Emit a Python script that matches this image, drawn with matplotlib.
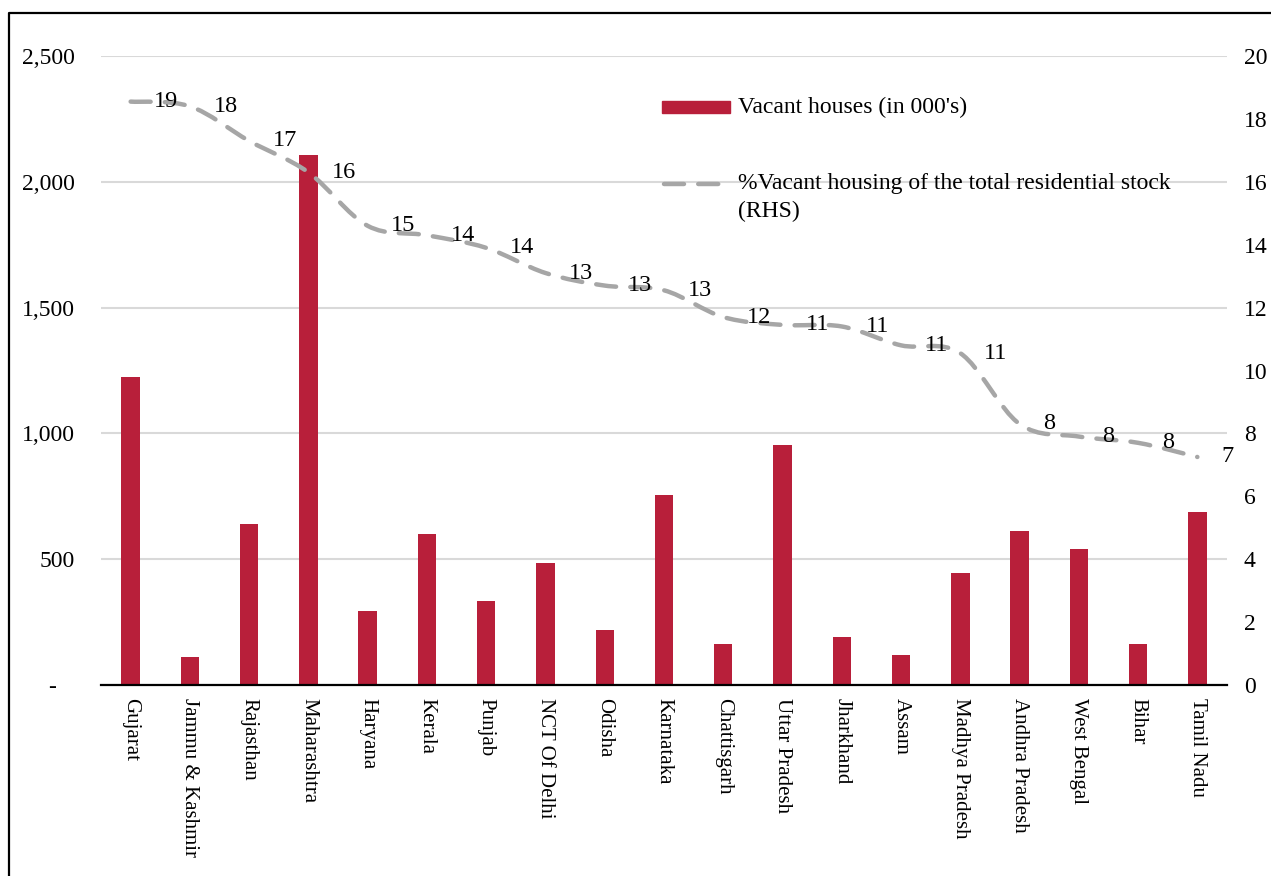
import numpy as np
import matplotlib
matplotlib.use("Agg")
import matplotlib.pyplot as plt
from matplotlib.path import Path
from matplotlib.patches import PathPatch, Rectangle
from matplotlib.lines import Line2D
from matplotlib.ticker import FixedLocator, FuncFormatter

# State-wise vacant housing
states = ["Gujarat", "Jammu & Kashmir", "Rajasthan", "Maharashtra", "Haryana",
          "Kerala", "Punjab", "NCT Of Delhi", "Odisha", "Karnataka", "Chattisgarh",
          "Uttar Pradesh", "Jharkhand", "Assam", "Madhya Pradesh", "Andhra Pradesh",
          "West Bengal", "Bihar", "Tamil Nadu"]
vacant_houses = [1224, 111, 640, 2107, 294, 600, 334, 485, 219, 755, 163,
                 954, 191, 119, 445, 612, 541, 163, 688]          # in 000's
vacant_share = [18.55, 18.4, 17.3, 16.3, 14.6, 14.3, 13.9, 13.1, 12.7, 12.55,
                11.7, 11.45, 11.4, 10.8, 10.55, 8.3, 7.9, 7.7, 7.25]  # % of stock

bar_label = "Vacant houses (in 000's)"
line_label = "%Vacant housing of the total residential stock\n(RHS)"

BAR_COLOR = "#B81F3A"
LINE_COLOR = "#A6A6A6"
GRID_COLOR = "#D9D9D9"

plt.rcParams["font.family"] = ["Liberation Serif", "DejaVu Serif"]

W, H = 1271, 876
fig = plt.figure(figsize=(W / 100, H / 100), dpi=100)


def fx(px):
    return px / W


def fy(py):
    return 1 - py / H


ax = fig.add_axes([fx(101), fy(685), fx(1227) - fx(101), fy(56) - fy(685)])
ax2 = ax.twinx()

x = np.arange(len(states))
ax.bar(x, vacant_houses, width=0.31, color=BAR_COLOR, zorder=2)
ax.set_xlim(-0.5, len(states) - 0.5)
ax.set_ylim(0, 2500)
ax.yaxis.set_major_locator(FixedLocator([0, 500, 1000, 1500, 2000, 2500]))
ax.yaxis.set_major_formatter(FuncFormatter(lambda v, p: "-   " if v == 0 else f"{v:,.0f}"))
ax.grid(axis="y", color=GRID_COLOR, linewidth=1.5, zorder=0)
ax.set_axisbelow(True)
ax.tick_params(axis="y", length=0, pad=19, labelsize=17)
ax.tick_params(axis="x", length=0, pad=9, labelsize=15)
ax.set_xticks(x)
ax.set_xticklabels(states, rotation=-90, ha="center", va="top")
for side in ("left", "right", "top"):
    ax.spines[side].set_visible(False)
    ax2.spines[side].set_visible(False)
ax.spines["bottom"].set_color("black")
ax.spines["bottom"].set_linewidth(1.6)
ax2.spines["bottom"].set_visible(False)

# Smoothed line for the share of vacant stock (right axis)
ax2.set_ylim(0, 20)
ax2.set_yticks(range(0, 21, 2))
ax2.tick_params(axis="y", length=0, pad=12, labelsize=17)
pts = np.column_stack([x, vacant_share]).astype(float)
n = len(pts)
verts = [pts[0]]
codes = [Path.MOVETO]
for i in range(n - 1):
    p0 = pts[max(i - 1, 0)]
    p1 = pts[i]
    p2 = pts[i + 1]
    p3 = pts[min(i + 2, n - 1)]
    verts += [p1 + (p2 - p0) / 6, p2 - (p3 - p1) / 6, p2]
    codes += [Path.CURVE4] * 3
curve = PathPatch(Path(verts, codes), fill=False, edgecolor=LINE_COLOR,
                  linewidth=3.2, linestyle=(0, (4.5, 3.2)), capstyle="round", zorder=3)
ax2.add_patch(curve)
for xi, yi in zip(x, vacant_share):
    ax2.annotate(f"{yi:.0f}", (xi, yi), xytext=(17, 0), textcoords="offset points",
                 ha="left", va="center", fontsize=17.5, zorder=4)

# Legend
fig.add_artist(Rectangle((fx(662), fy(113)), fx(730) - fx(662), fy(101) - fy(113),
                         transform=fig.transFigure, color=BAR_COLOR))
fig.text(fx(738), fy(107), bar_label, ha="left", va="center", fontsize=17)
fig.add_artist(Line2D([fx(664), fx(730)], [fy(184), fy(184)], transform=fig.transFigure,
                      color=LINE_COLOR, linewidth=3.2, linestyle=(0, (4.5, 3.2)),
                      solid_capstyle="round", dash_capstyle="round"))
fig.text(fx(738), fy(173), line_label, ha="left", va="top", fontsize=17, linespacing=1.45)

# Outer frame
fig.add_artist(Line2D([fx(9), fx(9), 1.01], [-0.01, fy(13), fy(13)],
                      transform=fig.transFigure, color="black", linewidth=1.6))

fig.savefig("out.png", dpi=100)
